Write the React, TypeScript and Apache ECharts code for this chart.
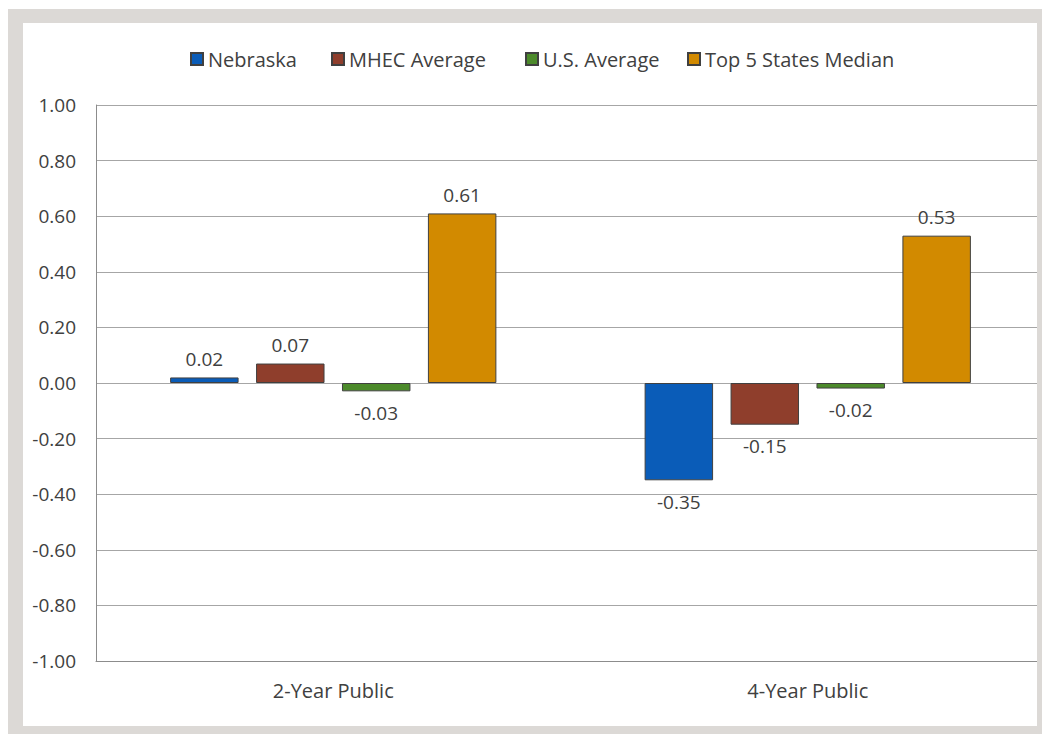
import React, { useEffect, useRef } from "react";
import * as echarts from "echarts";

const categories = ["2-Year Public", "4-Year Public"];
const seriesNames = ["Nebraska", "MHEC Average", "U.S. Average", "Top 5 States Median"];
const nebraska = [0.02, -0.35];
const mhec = [0.07, -0.15];
const usAvg = [-0.03, -0.02];
const top5 = [0.61, 0.53];
const colors = ["#0a5cb8", "#8f3e2c", "#4c8a2b", "#d28a00"];

const FONT = "'Open Sans', 'Noto Sans', sans-serif";
const TEXT = "#404040";
const legendLefts = [162, 303, 497, 659];

export default function App() {
  const ref = useRef<HTMLDivElement>(null);
  useEffect(() => {
    if (!ref.current) return;
    const chart = echarts.init(ref.current, null, { renderer: "svg" });
    const all = [nebraska, mhec, usAvg, top5];
    chart.setOption({
      animation: false,
      backgroundColor: "#ffffff",
      textStyle: { fontFamily: FONT, color: TEXT },
      legend: seriesNames.map((name, i) => ({
        left: legendLefts[i],
        top: 21,
        icon: "rect",
        itemWidth: 12,
        itemHeight: 12,
        textStyle: { fontFamily: FONT, fontSize: 20, color: TEXT },
        data: [name],
      })),
      grid: { left: 73, right: 0, top: 82, bottom: 65, containLabel: false },
      xAxis: {
        type: "category",
        data: categories,
        axisLine: { show: true, onZero: false, lineStyle: { color: "#8c8c8c", width: 1 } },
        axisTick: { show: false },
        axisLabel: { fontFamily: FONT, fontSize: 20, color: TEXT, margin: 19 },
      },
      yAxis: {
        type: "value",
        min: -1,
        max: 1,
        interval: 0.2,
        axisLine: { show: true, lineStyle: { color: "#8c8c8c", width: 1 } },
        axisTick: { show: false },
        splitLine: { lineStyle: { color: "#a6a6a6", width: 1 } },
        axisLabel: {
          fontFamily: FONT,
          fontSize: 19,
          color: TEXT,
          margin: 20,
          formatter: (v: number) => v.toFixed(2),
        },
      },
      series: seriesNames.map((name, i) => ({
        name,
        type: "bar",
        barWidth: "14.43%",
        barGap: "25.5%",
        itemStyle: { color: colors[i], borderColor: "#404040", borderWidth: 1 },
        data: all[i].map((v) => ({
          value: v,
          label: {
            show: true,
            position: v >= 0 ? "top" : "bottom",
            distance: v >= 0 ? 9 : 12,
            fontFamily: FONT,
            fontSize: 19,
            color: TEXT,
            formatter: (p: any) => Number(p.value).toFixed(2),
          },
        })),
      })),
    });
    return () => chart.dispose();
  }, []);
  return (
    <div style={{ position: "absolute", left: 0, top: 0, width: 1042, height: 734, background: "#ffffff" }}>
      <div style={{ position: "absolute", left: 8, top: 9, width: 1034, height: 725, background: "#dcd9d6" }} />
      <div style={{ position: "absolute", left: 23, top: 23, width: 1014, height: 703, overflow: "hidden" }}>
        <div ref={ref} style={{ position: "absolute", left: 0, top: 0, width: 1022, height: 703 }} />
      </div>
    </div>
  );
}
